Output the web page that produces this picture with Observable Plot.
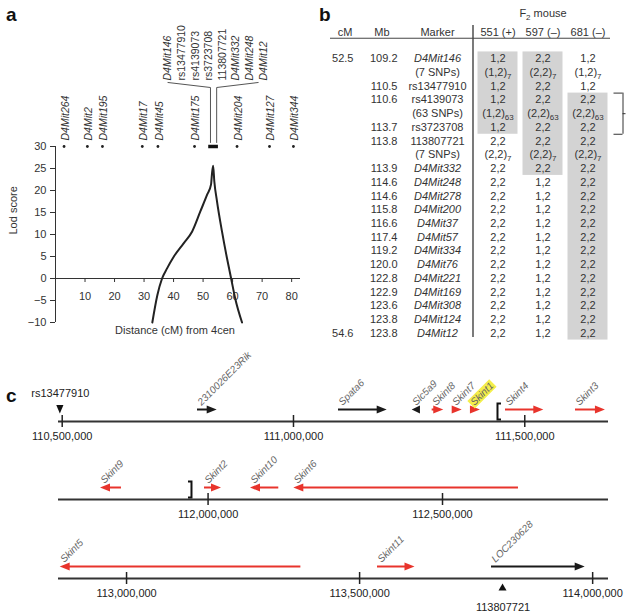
<!DOCTYPE html>
<html><head><meta charset="utf-8">
<script src="https://cdn.jsdelivr.net/npm/d3@7"></script>
<script src="https://cdn.jsdelivr.net/npm/@observablehq/plot@0.6"></script>
<style>
html,body{margin:0;padding:0;background:#fff;}
#fig{position:relative;width:629px;height:616px;font-family:"Liberation Sans",Arial,Helvetica,sans-serif;overflow:hidden;background:#fff}
#fig svg{overflow:visible}
.pl{position:absolute}
.lab{position:absolute;font-weight:bold;font-size:19px;line-height:22px;color:#111}
</style></head><body><div id="fig"></div>
<script>
// ================= DATA =================
// Panel a: markers along chromosome 4 (cM)
const markerNames = ["D4Mit264","D4Mit2","D4Mit195","D4Mit17","D4Mit45","D4Mit175","D4Mit204","D4Mit127","D4Mit344"];
const markerCM    = [2.9, 10.8, 15.9, 29.4, 34.7, 47.1, 61.5, 72.5, 80.6];
const clusterNames = ["D4Mit146","rs13477910","rs4139073","rs3723708","113807721","D4Mit332","D4Mit248","D4Mit12"];
const clusterCM = [52.5, 54.6];
// LOD curve
const lodCM    = [32.8, 34.5, 36.1, 37.8, 40.1, 43.4, 46.3, 49.1, 51.4, 52.7, 53.0, 53.4, 53.8, 54.7, 56.4, 58.1, 59.5, 60.9, 63.2];
const lodScore = [-10, -3.8, 0, 2.3, 5, 8, 10.7, 15.3, 19.1, 21.4, 23.7, 25.6, 22.1, 17.6, 10.7, 4.6, 0, -4.6, -10];
const xTicksA = [10, 20, 30, 40, 50, 60, 70, 80];
const yTicksA = [-10, -5, 0, 5, 10, 15, 20, 25, 30];

// Panel b: haplotype table
const genoCols = ["551 (+)", "597 (–)", "681 (–)"];
const cmCol  = ["52.5","","","","","","","","","","","","","","","","","","","","54.6"];
const mbCol  = ["109.2","","110.5","110.6","","113.7","113.8","","113.9","114.6","114.6","115.8","116.6","117.4","119.2","120.0","122.8","122.9","123.6","123.8","123.8"];
const markerCol = ["D4Mit146","(7 SNPs)","rs13477910","rs4139073","(63 SNPs)","rs3723708","113807721","(7 SNPs)","D4Mit332","D4Mit248","D4Mit278","D4Mit200","D4Mit37","D4Mit57","D4Mit334","D4Mit76","D4Mit221","D4Mit169","D4Mit308","D4Mit124","D4Mit12"];
const g551 = ["1,2","(1,2)_{7}","1,2","1,2","(1,2)_{63}","1,2","2,2","(2,2)_{7}","2,2","2,2","2,2","2,2","2,2","2,2","2,2","2,2","2,2","2,2","2,2","2,2","2,2"];
const g597 = ["2,2","(2,2)_{7}","2,2","2,2","(2,2)_{63}","2,2","2,2","(2,2)_{7}","2,2","1,2","1,2","1,2","1,2","1,2","1,2","1,2","1,2","1,2","1,2","1,2","1,2"];
const g681 = ["1,2","(1,2)_{7}","1,2","2,2","(2,2)_{63}","2,2","2,2","(2,2)_{7}","2,2","2,2","2,2","2,2","2,2","2,2","2,2","2,2","2,2","2,2","2,2","2,2","2,2"];
const intervalMarkers = ["rs4139073", "rs3723708"];

// Panel c: genes (bp)
const geneNames  = ["2310026E23Rik","Spata6","Slc5a9","Skint8","Skint7","Skint1","Skint4","Skint3","Skint9","Skint2","Skint10","Skint6","Skint5","Skint11","LOC230628"];
const geneLeft   = [110792500,111097300,111256600,111299800,111343100,111382600,111458300,111609600,111770600,111992400,112090500,112182800,112857600,113538400,113783000];
const geneRight  = [110835000,111202500,111274500,111324900,111364700,111404200,111541100,111674400,111815300,112028600,112150800,112662000,113374000,113618900,113984000];
const geneStrand = ["+","+","-","+","+","+","+","+","-","+","-","-","-","+","+"];
const highlightGene = "Skint1";
const trackStart = [110492000, 111681000, 112854000];
const trackEnd   = [111681000, 112854000, 114034000];
const genomeTicks = [110500000, 111000000, 111500000, 112000000, 112500000, 113000000, 113500000, 114000000];
const snpNames = ["rs13477910", "113807721"];
const snpPos   = [110496000, 113807721];
const snpSide  = ["above", "below"];
const bracketPos  = [111442100, 111965700];
const bracketSide = ["open", "close"];

// ================= LAYOUT =================
const FONT = '"Liberation Sans", Arial, Helvetica, sans-serif';
const TXT = "#333";
const RED = "#e8342c";
const fig = document.getElementById("fig");
function place(node, left, top) {
  node.classList.add("pl");
  node.style.left = left + "px"; node.style.top = top + "px";
  fig.appendChild(node); return node;
}
function panelLabel(t, left, top) {
  const d = document.createElement("div"); d.className = "lab"; d.textContent = t;
  d.style.left = left + "px"; d.style.top = top + "px"; fig.appendChild(d);
}
const baseStyle = {background: "transparent", overflow: "visible", fontFamily: FONT, fontSize: "11px", color: TXT};

// ---------- Panel a ----------
{
  const A = {left: 55, right: 300, top: 146, bottom: 322, w: 320, h: 345};
  const xMax = 83;
  const pxPerCM = (A.right - A.left) / xMax, pxPerLod = (A.bottom - A.top) / 40;
  const lodData = lodCM.map((c, i) => ({cm: c, lod: lodScore[i]}));
  const markerData = markerNames.map((n, i) => ({name: n, cm: markerCM[i]}));
  const barMid = (clusterCM[0] + clusterCM[1]) / 2;
  const nC = clusterNames.length;
  const clusterData = clusterNames.map((n, i) => ({
    name: n, cm: barMid + (2 + (i - (nC - 1) / 2) * 13.6) / pxPerCM, italic: n.startsWith("D4Mit")
  }));
  const yAt = px => 30 + (A.top - px) / pxPerLod;
  const connL = [{cm: clusterData[0].cm, lod: yAt(82)}, {cm: clusterCM[0], lod: yAt(87)}, {cm: clusterCM[0], lod: yAt(142)}];
  const connR = [{cm: clusterData[nC - 1].cm - 5 / pxPerCM, lod: yAt(82)}, {cm: clusterCM[1], lod: yAt(87)}, {cm: clusterCM[1], lod: yAt(142)}];

  const svg = Plot.plot({
    width: A.w, height: A.h,
    marginLeft: A.left, marginRight: A.w - A.right, marginTop: A.top, marginBottom: A.h - A.bottom,
    style: baseStyle,
    x: {domain: [0, xMax], axis: null},
    y: {domain: [-10, 30], ticks: yTicksA, tickSize: 5, tickPadding: 4, label: null},
    marks: [
      Plot.ruleX([0], {stroke: TXT, strokeWidth: 1}),
      Plot.ruleY([0], {stroke: TXT, strokeWidth: 1}),
      Plot.ruleX(xTicksA, {x: d => d, y1: 0, y2: 0, insetTop: 0, insetBottom: -4, stroke: TXT}),
      Plot.text(xTicksA, {x: d => d, y: 0, dy: 18, text: d => String(d), fontSize: 11, fill: TXT}),
      Plot.text(["Distance (cM) from 4cen"], {frameAnchor: "bottom", dy: 11, dx: -3, text: d => d, fontSize: 11, fill: TXT}),
      Plot.text(["Lod score"], {frameAnchor: "left", dx: -42, rotate: -90, text: d => d, fontSize: 11, fill: TXT}),
      Plot.line(lodData, {x: "cm", y: "lod", stroke: "#222", strokeWidth: 2, curve: "monotone-x"}),
      Plot.dot(markerData, {x: "cm", y: 30, r: 1.4, fill: "#222"}),
      Plot.text(markerData, {x: "cm", y: 30, text: "name", rotate: -90, textAnchor: "start", dy: -6, dx: 1.5, fontStyle: "italic", fontSize: 10.5, fill: TXT}),
      Plot.ruleY([{y: 30, x1: clusterCM[0], x2: clusterCM[1]}], {y: "y", x1: "x1", x2: "x2", stroke: "#111", strokeWidth: 3.5, strokeLinecap: "square"}),
      Plot.text(clusterData.filter(d => d.italic), {x: "cm", y: 30, text: "name", rotate: -90, textAnchor: "start", dy: -66, fontStyle: "italic", fontSize: 10.5, fill: TXT}),
      Plot.text(clusterData.filter(d => !d.italic), {x: "cm", y: 30, text: "name", rotate: -90, textAnchor: "start", dy: -66, fontSize: 10.5, fill: TXT}),
      Plot.line(connL, {x: "cm", y: "lod", stroke: "#555", strokeWidth: 1}),
      Plot.line(connR, {x: "cm", y: "lod", stroke: "#555", strokeWidth: 1})
    ]
  });
  place(svg, 0, 0);
  panelLabel("a", 6, 4);
}

// ---------- Panel b ----------
function subscripts(svg) {
  const NS = "http://www.w3.org/2000/svg";
  svg.querySelectorAll("text").forEach(t => {
    const s = t.textContent;
    if (!s.includes("_{")) return;
    while (t.firstChild) t.removeChild(t.firstChild);
    let shifted = false;
    for (const part of s.split(/(_\{[^}]*\})/)) {
      if (!part) continue;
      const ts = document.createElementNS(NS, "tspan");
      const m = part.match(/^_\{(.*)\}$/);
      if (m) { ts.textContent = m[1]; ts.setAttribute("font-size", "8"); ts.setAttribute("dy", "3"); shifted = true; }
      else { ts.textContent = part; if (shifted) { ts.setAttribute("dy", "-3"); shifted = false; } }
      t.appendChild(ts);
    }
  });
}
{
  const B = {w: 309, h: 345, ml: 154.5, mr: 19.5, mt: 51.44, mb: 5.44};
  const genoByCol = [g551, g597, g681];
  const rows = markerCol.map((m, i) => ({i, marker: m, mb: mbCol[i], cm: cmCol[i], italic: m.startsWith("D4Mit")}));
  const genoData = genoCols.flatMap((c, j) => genoByCol[j].map((t, i) => ({i, col: c, text: t})));
  const baseG = t => t.replace(/_\{[^}]*\}/g, "").replace(/[()]/g, "");
  const runs = [];
  genoCols.forEach((c, j) => {
    const target = c.includes("+") ? "1,2" : "2,2";
    let start = null;
    genoByCol[j].forEach((t, i) => {
      const on = baseG(t) === target;
      if (on && start === null) start = i;
      if ((!on || i === genoByCol[j].length - 1) && start !== null) {
        const end = on ? i : i - 1;
        runs.push({col: c, y1: start - 0.5, y2: end + 0.5}); start = null;
      }
    });
  });
  const iv0 = markerCol.indexOf(intervalMarkers[0]), iv1 = markerCol.indexOf(intervalMarkers[1]);
  const lastCol = genoCols[genoCols.length - 1];
  const colHead = [{t: "cM", dx: -122.5, a: "end"}, {t: "Mb", dx: -85.5, a: "end"}, {t: "Marker", dx: -37.5, a: "middle"}];

  const svg = Plot.plot({
    width: B.w, height: B.h, marginLeft: B.ml, marginRight: B.mr, marginTop: B.mt, marginBottom: B.mb,
    style: baseStyle,
    x: {type: "band", domain: genoCols, padding: 0, axis: null},
    y: {domain: [-0.5, markerCol.length - 0.5], reverse: true, axis: null},
    marks: [
      Plot.barY(runs, {x: "col", y1: "y1", y2: "y2", fill: "#d3d3d3", insetLeft: 2.5, insetRight: 2.5}),
      Plot.ruleX([genoCols[0]], {x: d => d, y1: -0.5, y2: markerCol.length - 0.5, dx: -25, insetTop: -26.4, insetBottom: 2.6, stroke: "#222", strokeWidth: 1.2}),
      Plot.ruleY([-0.5], {y: d => d, dy: -13.7, insetLeft: -144.5, insetRight: -0.5, stroke: "#444", strokeWidth: 1}),
      Plot.text(["F_{2} mouse"], {x: () => genoCols[1], frameAnchor: "top", dy: -38.4, lineAnchor: "middle", text: d => d, fontSize: 11, fill: TXT}),
      Plot.text(genoCols, {x: d => d, frameAnchor: "top", dy: -19.4, lineAnchor: "middle", text: d => d, fontSize: 11, fill: TXT}),
      ...colHead.map(h => Plot.text([h.t], {frameAnchor: "top-left", dx: h.dx, dy: -19.4, lineAnchor: "middle", textAnchor: h.a, text: d => d, fontSize: 11, fill: TXT})),
      Plot.text(rows.filter(r => r.cm), {frameAnchor: "left", y: "i", dx: -121.5, textAnchor: "end", text: "cm", fontSize: 11, fill: TXT}),
      Plot.text(rows.filter(r => r.mb), {frameAnchor: "left", y: "i", dx: -77.5, textAnchor: "end", text: "mb", fontSize: 11, fill: TXT}),
      Plot.text(rows.filter(r => r.italic), {frameAnchor: "left", y: "i", dx: -37.5, textAnchor: "middle", text: "marker", fontStyle: "italic", fontSize: 11, fill: TXT}),
      Plot.text(rows.filter(r => !r.italic), {frameAnchor: "left", y: "i", dx: -37.5, textAnchor: "middle", text: "marker", fontSize: 11, fill: TXT}),
      Plot.text(genoData, {x: "col", y: "i", text: "text", fontSize: 11, fill: TXT}),
      // bracket marking the critical interval
      Plot.ruleX([lastCol], {x: d => d, y1: iv0 - 0.5, y2: iv1 + 0.5, dx: 35, stroke: "#333", strokeWidth: 1}),
      Plot.ruleY([iv0 - 0.5, iv1 + 0.5], {y: d => d, x1: () => lastCol, x2: () => lastCol, insetLeft: 48.5, insetRight: -12.5, stroke: "#333", strokeWidth: 1}),
      Plot.ruleY([(iv0 + iv1) / 2], {y: d => d, x1: () => lastCol, x2: () => lastCol, insetLeft: 57.5, insetRight: -15.5, stroke: "#333", strokeWidth: 1})
    ]
  });
  subscripts(svg);
  place(svg, 320, 0);
  panelLabel("b", 319, 4);
}

// ---------- Panel c ----------
{
  const genes = geneNames.map((n, i) => ({name: n, left: geneLeft[i], right: geneRight[i], strand: geneStrand[i], color: n.startsWith("Skint") ? RED : "#1a1a1a"}));
  const snps = snpNames.map((n, i) => ({name: n, pos: snpPos[i], side: snpSide[i]}));
  const brackets = bracketPos.map((p, i) => ({pos: p, side: bracketSide[i]}));
  const lineTops = [421, 499, 577.5];
  const H = 100, LY = 58;
  const fmt = d3.format(",");
  trackStart.forEach((ts, k) => {
    const te = trackEnd[k];
    const inT = p => p >= ts && p <= te;
    const tg = genes.filter(g => g.left >= ts && g.right <= te);
    const tt = genomeTicks.filter(inT);
    const tsn = snps.filter(s => inT(s.pos));
    const tb = brackets.filter(b => inT(b.pos));
    const shapes = (index, scales) => {
      const g = d3.create("svg:g");
      const y0 = scales.y(0), y1 = scales.y(1);
      for (const d of tg) {
        const xa = scales.x(d.left), xb = scales.x(d.right);
        const len = xb - xa, head = Math.min(10, len), hw = 4;
        const dir = d.strand === "+" ? 1 : -1;
        const tip = dir > 0 ? xb : xa, tail = dir > 0 ? xa : xb;
        const base = tip - dir * head;
        if (len > head + 0.5) g.append("line").attr("x1", tail).attr("x2", base + dir).attr("y1", y1).attr("y2", y1).attr("stroke", d.color).attr("stroke-width", 2);
        g.append("path").attr("d", `M${tip},${y1}L${base},${y1 - hw}L${base},${y1 + hw}Z`).attr("fill", d.color);
      }
      for (const b of tb) {
        const x = scales.x(b.pos), s = b.side === "open" ? 3.5 : -3.5;
        g.append("path").attr("d", `M${x + s},${y0 - 17.5}H${x}V${y0 - 1.5}H${x + s}`).attr("fill", "none").attr("stroke", "#111").attr("stroke-width", 2);
      }
      for (const s of tsn) {
        const x = scales.x(s.pos);
        if (s.side === "above") g.append("path").attr("d", `M${x - 3.6},${y0 - 16}H${x + 3.6}L${x},${y0 - 7.5}Z`).attr("fill", "#111");
        else g.append("path").attr("d", `M${x - 4},${y0 + 12.5}H${x + 4}L${x},${y0 + 5.5}Z`).attr("fill", "#111");
      }
      return g.node();
    };
    const svg = Plot.plot({
      width: 629, height: H, marginLeft: 58, marginRight: 21, marginTop: 0, marginBottom: 0,
      style: baseStyle,
      x: {domain: [ts, te], axis: null},
      y: {domain: [0, 1], range: [LY, LY - 11.5], axis: null},
      marks: [
        Plot.ruleY([0], {stroke: "#333", strokeWidth: 2}),
        Plot.ruleX(tt, {x: d => d, y1: 0, y2: 0, insetTop: -6, insetBottom: -6, stroke: "#222", strokeWidth: 1.5}),
        Plot.text(tt, {x: d => d, y: 0, dy: 15, text: d => fmt(d), fontSize: 11, fill: "#222"}),
        shapes,
        Plot.text(tg, {x: "left", y: 1, text: "name", rotate: -45, textAnchor: "start", lineAnchor: "bottom", dx: 4, dy: -4, fontStyle: "italic", fontSize: 10, fill: "#666"}),
        Plot.text(tsn, {x: "pos", y: 0, dy: d => 0, text: "name", fontSize: 11, fill: "#222", filter: d => d.side === "above", dy: -28}),
        Plot.text(tsn, {x: "pos", y: 0, text: "name", fontSize: 11, fill: "#222", filter: d => d.side === "below", dy: 28.5})
      ]
    });
    place(svg, 0, lineTops[k] - LY);
    // highlight box behind the highlighted gene label
    svg.querySelectorAll("text").forEach(t => {
      if (t.textContent === highlightGene) {
        const bb = t.getBBox();
        const r = document.createElementNS("http://www.w3.org/2000/svg", "rect");
        r.setAttribute("x", bb.x - 1.5); r.setAttribute("y", bb.y + 0.5);
        r.setAttribute("width", bb.width + 3); r.setAttribute("height", bb.height - 0.5);
        r.setAttribute("fill", "#f5ee4a");
        if (t.getAttribute("transform")) r.setAttribute("transform", t.getAttribute("transform"));
        t.parentNode.insertBefore(r, t);
      }
    });
  });
  panelLabel("c", 6, 385);
}
</script></body></html>
